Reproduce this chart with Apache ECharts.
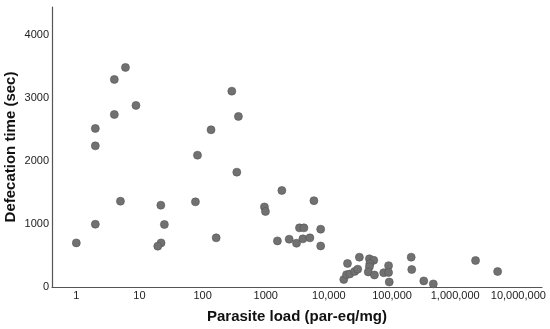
<!DOCTYPE html>
<html>
<head>
<meta charset="utf-8">
<script src="https://cdn.jsdelivr.net/npm/echarts@6/dist/echarts.min.js"></script>
<style>
html,body{margin:0;padding:0;background:#fff;}
#chart{width:550px;height:329px;}
</style>
</head>
<body>
<div id="chart"></div>
<script>
// Parasite load (par-eq/mg)
var parasiteLoad = [1, 2, 2, 2, 4, 4, 5, 6, 8.8, 21.8, 24.8, 22, 19.5, 83, 77, 164, 136, 290, 369, 348,
  953, 989, 1530, 1800, 2350, 3070, 3420, 4020, 3870, 5000, 5790, 7410, 7410,
  17200, 19000, 21400, 25600, 28600, 19700, 30400, 43800, 51300, 44500, 43800, 42000, 52600,
  73800, 88100, 88100, 90300, 201000, 205000, 318000, 450000, 2100000, 4700000];
// Defecation time (sec)
var defecationTime = [701, 998, 2520, 2243, 2742, 3299, 1364, 3490, 2886, 1300, 994, 701, 649, 2095, 1353, 781, 2498, 3113, 2711, 1825,
  1273, 1200, 733, 1534, 760, 696, 940, 940, 765, 781, 1372, 919, 652,
  119, 196, 207, 248, 283, 374, 474, 448, 424, 370, 323, 240, 191,
  227, 339, 231, 79, 474, 278, 97, 49, 421, 246];
var xTickLabels = ['1', '10', '100', '1000', '10,000', '100,000', '1,000,000', '10,000,000'];
var yTickLabels = ['0', '1000', '2000', '3000', '4000'];

var points = parasiteLoad.map(function (x, i) { return [x, defecationTime[i]]; });

var chart = echarts.init(document.getElementById('chart'), null, {renderer: 'canvas'});
chart.setOption({
  animation: false,
  backgroundColor: '#ffffff',
  grid: {left: 52, right: 8, top: 7, bottom: 42, containLabel: false, outerBoundsMode: 'none'},
  xAxis: {
    type: 'log',
    logBase: 10,
    min: 0.412,
    max: 23700000,
    name: 'Parasite load (par-eq/mg)',
    nameLocation: 'middle',
    nameGap: 22,
    nameTextStyle: {fontFamily: 'Liberation Sans', fontWeight: 'bold', fontSize: 15, color: '#111'},
    axisLine: {show: true, lineStyle: {color: '#555', width: 1.2}},
    axisTick: {show: false},
    splitLine: {show: false},
    axisLabel: {
      showMinLabel: false,
      showMaxLabel: false,
      margin: 3,
      fontFamily: 'Liberation Sans',
      fontSize: 11,
      color: '#222',
      formatter: function (v) {
        var k = Math.round(Math.log10(v));
        if (Math.abs(Math.log10(v) - k) > 1e-6) return '';
        return xTickLabels[k] !== undefined ? xTickLabels[k] : '';
      }
    }
  },
  yAxis: {
    type: 'value',
    min: 0,
    max: 4450,
    interval: 1000,
    name: 'Defecation time (sec)',
    nameLocation: 'middle',
    nameGap: 34,
    nameMoveOverlap: false,
    nameTextStyle: {fontFamily: 'Liberation Sans', fontWeight: 'bold', fontSize: 15, color: '#111'},
    axisLine: {show: true, lineStyle: {color: '#555', width: 1.2}},
    axisTick: {show: false},
    splitLine: {show: false},
    axisLabel: {
      showMaxLabel: false,
      margin: 3,
      fontFamily: 'Liberation Sans',
      fontSize: 11,
      color: '#222',
      formatter: function (v) {
        var i = Math.round(v / 1000);
        return (Math.abs(v - i * 1000) < 1e-6 && yTickLabels[i] !== undefined) ? yTickLabels[i] : '';
      }
    }
  },
  series: [{
    type: 'scatter',
    data: points,
    symbol: 'circle',
    symbolSize: 8,
    clip: true,
    itemStyle: {color: '#717171', borderColor: '#555555', borderWidth: 0.6, opacity: 1}
  }]
});
</script>
</body>
</html>
